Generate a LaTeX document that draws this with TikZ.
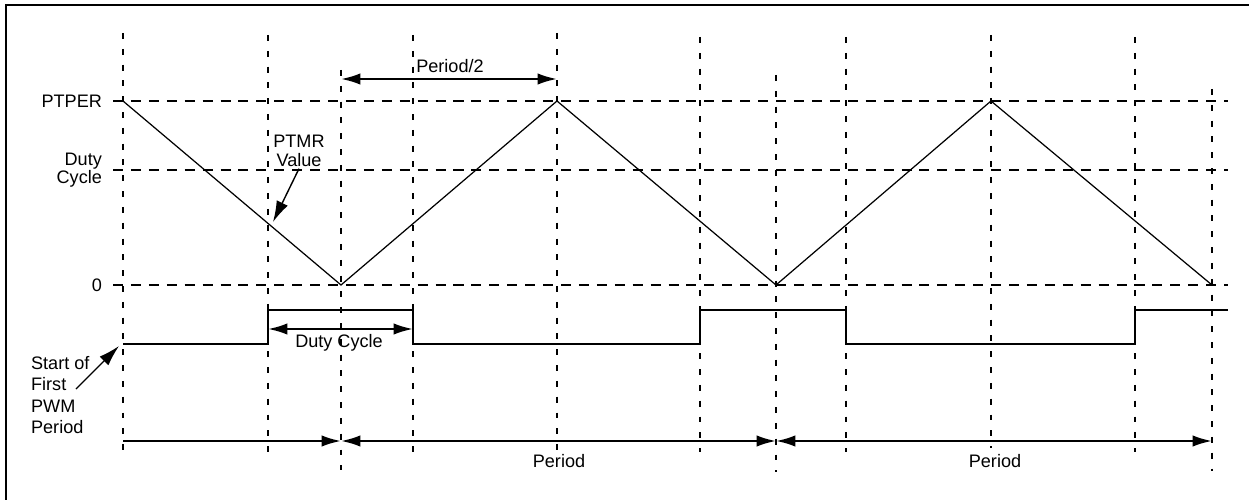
\documentclass[tikz,border=0pt]{standalone}
\usepackage{fontspec}
\setmainfont{Liberation Sans}
\usetikzlibrary{arrows.meta,positioning}

\begin{document}
\begin{tikzpicture}[
  x=0.02cm, y=-0.02cm,
  frame/.style={line width=1.5pt},
  hgrid/.style={line width=1.3pt, dash pattern=on 5.7pt off 4.5pt},
  vgrid/.style={line width=1.3pt, dash pattern=on 3.4pt off 5.6pt},
  ramp/.style={line width=0.7pt, line join=miter},
  pwm/.style={line width=1.3pt},
  dim/.style={line width=1.3pt, {Latex[length=11pt,width=6.5pt]}-{Latex[length=11pt,width=6.5pt]}},
  dimr/.style={line width=1.3pt, -{Latex[length=11pt,width=6.5pt]}},
  ptr/.style={line width=0.8pt, -{Latex[length=12pt,width=7pt]}},
  lbl/.style={font=\fontsize{10.3}{10.5}\selectfont, inner sep=1pt}
]
  \useasboundingbox (0,0) rectangle (1249,500);

  % Outer frame (cut at the right and bottom)
  \draw[frame] (6,500) -- (6,5) -- (1249,5);

  % Time marks
  \foreach \n/\x in {ta/123, tb/268, tc/341, td/413, te/557, tf/700,
                     tg/776, th/846, ti/991, tj/1135, tk/1212}
    \coordinate (\n) at (\x,0);
  % Levels
  \coordinate (yper) at (0,101);
  \coordinate (yduty) at (0,170);
  \coordinate (yzero) at (0,285);
  \coordinate (yhigh) at (0,310);
  \coordinate (ylow) at (0,344);
  \coordinate (yhalf) at (0,79);
  \coordinate (ydc) at (0,329);
  \coordinate (yprd) at (0,441);

  % Vertical dashed lines
  \foreach \x/\top/\bot in {123/33/452, 268/35/452, 341/70/470, 413/35/452,
                            557/33/450, 700/37/452, 776/75/472, 846/37/452,
                            991/35/448, 1135/37/452, 1212/89/471}
    \draw[vgrid] (\x,\top) -- (\x,\bot);

  % Horizontal dashed lines
  \foreach \y in {101,170,285}
    \draw[hgrid] (113,\y) -- (1228,\y);

  % Level labels
  \node[lbl, anchor=east] (ptper) at (104,101) {PTPER};
  \node[lbl, anchor=east, align=right] (dutylvl) at (104,170) {Duty\\Cycle};
  \node[lbl, anchor=east] (zero) at (104,285) {0};

  % PTMR ramp
  \draw[ramp] (ta |- yper) -- (tc |- yzero) -- (te |- yper) -- (tg |- yzero)
    -- (ti |- yper) -- (tk |- yzero);

  % PWM output
  \draw[pwm] (ta |- ylow) -- (tb |- ylow) -- (tb |- yhigh) -- (td |- yhigh)
    -- (td |- ylow) -- (tf |- ylow) -- (tf |- yhigh) -- (th |- yhigh)
    -- (th |- ylow) -- (tj |- ylow) -- (tj |- yhigh) -- (1228,310);

  % PTMR value pointer
  \node[lbl, align=center] (ptmr) at (299,151) {PTMR\\Value};
  \coordinate (ptmrtip) at (273,222);
  \draw[ptr] (ptmr.south) -- (ptmrtip);

  % Start of first period pointer
  \node[lbl, anchor=west, align=left, font=\fontsize{10.3}{12.2}\selectfont]
    (start) at (29,395) {Start of\\First\\PWM\\Period};
  \coordinate (starttip) at (119,346);
  \coordinate (starttail) at (76,389);
  \draw[ptr] (starttail) -- (starttip);

  % Period/2
  \draw[dim] (tc |- yhalf) -- (te |- yhalf);
  \node[lbl] (half) at (450,66) {Period/2};

  % Duty cycle
  \draw[dim] (tb |- ydc) -- (td |- ydc);
  \node[lbl] (dc) at (339,343) {Duty Cycle};

  % Periods
  \draw[dimr] (ta |- yprd) -- (tc |- yprd);
  \draw[dim] (tc |- yprd) -- (tg |- yprd);
  \draw[dim] (tg |- yprd) -- (tk |- yprd);
  \node[lbl] (prd1) at (559,461) {Period};
  \node[lbl] (prd2) at (995,461) {Period};
\end{tikzpicture}
\end{document}
